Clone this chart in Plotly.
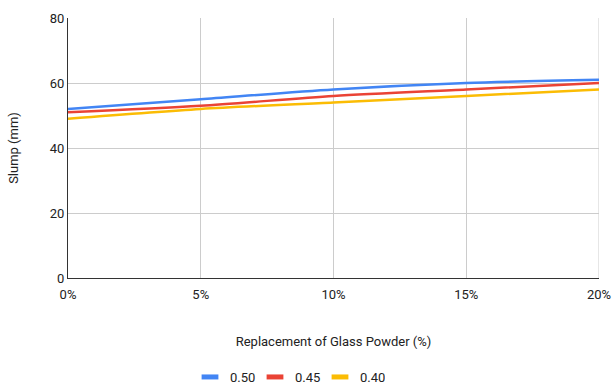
import plotly.graph_objects as go

# Replacement level of glass powder (%)
replacement = [0, 5, 10, 15, 20]
tick_labels = ["0%", "5%", "10%", "15%", "20%"]

# Slump (mm) for each water-cement ratio
slump_050 = [52, 55, 58, 60, 61]
slump_045 = [51, 53, 56, 58, 60]
slump_040 = [49, 52, 54, 56, 58]

series = [
    ("0.50", slump_050, "#4285F4"),
    ("0.45", slump_045, "#EA4335"),
    ("0.40", slump_040, "#FBBC04"),
]

fig = go.Figure()
for name, ys, color in series:
    fig.add_trace(go.Scatter(
        x=replacement, y=ys, name=name, mode="lines", showlegend=False,
        legendgroup=name,
        line=dict(color=color, width=2.5, shape="spline", smoothing=0.8),
    ))
    # Legend entry drawn as a short thick bar
    fig.add_trace(go.Scatter(
        x=[None], y=[None], name=name, mode="markers", legendgroup=name,
        marker=dict(symbol="line-ew-open", size=12, color=color,
                    line=dict(color=color, width=5)),
    ))

font_family = "Roboto, Arial, sans-serif"
text_color = "#222222"
fig.update_layout(
    width=613, height=385,
    margin=dict(l=68, r=14, t=18, b=107, autoexpand=False),
    plot_bgcolor="white", paper_bgcolor="white",
    font=dict(family=font_family, size=13, color=text_color),
    showlegend=True,
    legend=dict(orientation="h", xref="container", x=190 / 613, xanchor="left",
                yref="container", y=8 / 385, yanchor="middle",
                entrywidth=20, entrywidthmode="pixels",
                font=dict(size=13, color=text_color), itemwidth=30),
)
fig.update_xaxes(
    range=[0, 20], tickvals=replacement, ticktext=tick_labels,
    showgrid=True, gridcolor="#cccccc", gridwidth=1,
    showline=True, linecolor="#333333", linewidth=1,
    zeroline=False, ticks="", automargin=False, ticklabelstandoff=4,
    title=dict(text="Replacement of Glass Powder (%)", standoff=36,
               font=dict(size=13, color=text_color)),
    tickfont=dict(size=13, color=text_color),
)
fig.update_yaxes(
    range=[0, 80], tickvals=[0, 20, 40, 60, 80],
    showgrid=True, gridcolor="#cccccc", gridwidth=1,
    showline=True, linecolor="#333333", linewidth=1,
    zeroline=False, ticks="", automargin=False,
    title=dict(text="Slump (mm)", standoff=28, font=dict(size=13, color=text_color)),
    tickfont=dict(size=13, color=text_color),
)
# Right-edge gridline at 20%
fig.add_shape(type="line", xref="x", yref="paper", x0=20, x1=20, y0=0, y1=1,
              line=dict(color="#cccccc", width=1), layer="below")

fig.write_html("out.html")
